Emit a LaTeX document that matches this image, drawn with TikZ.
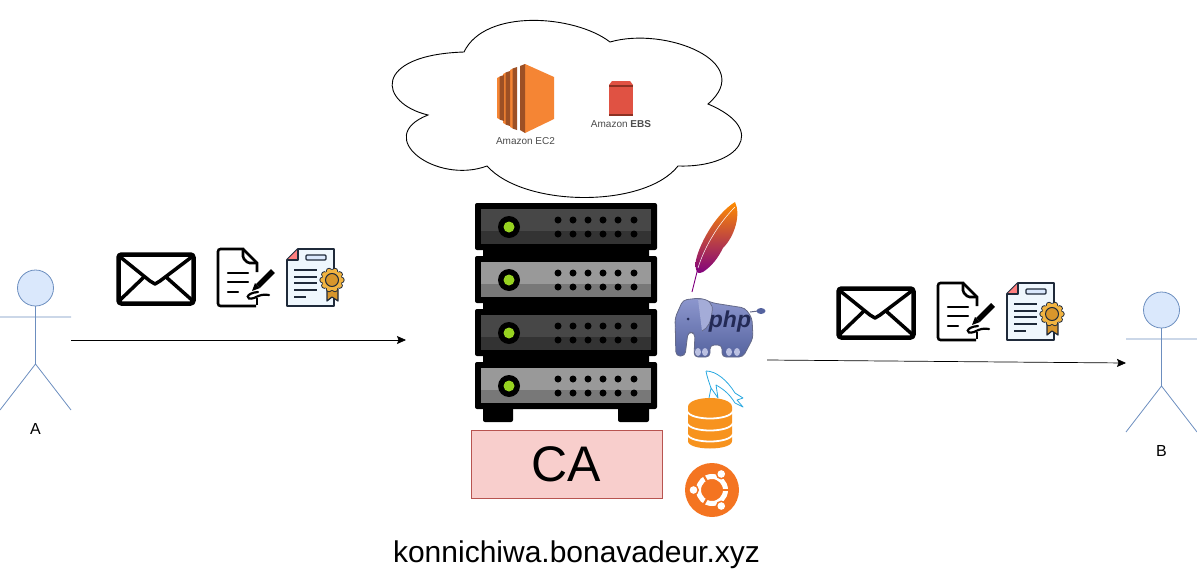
\documentclass[tikz,border=0pt]{standalone}
\usepackage{fontspec}
\setmainfont{Liberation Sans}
\usetikzlibrary{arrows.meta}
\definecolor{actorfill}{HTML}{DAE8FC}
\definecolor{actorline}{HTML}{6C8EBF}
\definecolor{cafill}{HTML}{F8CECC}
\definecolor{caline}{HTML}{B85450}
\definecolor{ectwo}{HTML}{F58534}
\definecolor{ectwodark}{HTML}{9D5025}
\definecolor{ebsred}{HTML}{E05243}
\definecolor{ebsdark}{HTML}{8C3123}
\definecolor{ledgreen}{HTML}{97D320}
\definecolor{phptop}{HTML}{8D97CE}
\definecolor{phpbottom}{HTML}{55639F}
\definecolor{phpdark}{HTML}{232A55}
\definecolor{dbyellow}{HTML}{F7931E}
\definecolor{ubuorange}{HTML}{F47421}
\definecolor{dolphin}{HTML}{29A8E0}
\definecolor{certfill}{HTML}{EFF7FD}
\definecolor{certline}{HTML}{1F2A3A}
\definecolor{medal}{HTML}{F2B441}
\definecolor{medaldark}{HTML}{D8962C}
\tikzset{
  actor/.style={draw=actorline, line width=0.8pt},
  msg/.style={-{Stealth[length=9pt,width=8pt,inset=1.5pt]}, line width=0.7pt},
  icontext/.style={inner sep=0pt, text=black!70, font=\fontsize{10}{10}\selectfont},
  msgset/.pic={
    % envelope
    \draw[line width=4.5pt, rounded corners=3pt] (118.5,254.5) rectangle (193.5,303.5);
    \draw[line width=3.5pt, line join=round] (119,256) -- (150,281) -- (155,284) -- (160,281) -- (193,256);
    \draw[line width=3.5pt] (119,301) -- (144,277) (193,301) -- (166,277);
    % signed page
    \draw[line width=2.6pt, rounded corners=2.5pt] (244,249) -- (218,249) -- (218,306) -- (256,306);
    \draw[line width=2.6pt, rounded corners=1.5pt] (243,249) -- (243,258) -- (248,263) -- (257,263);
    \draw[line width=2.6pt] (243,249) -- (257,263) -- (257,272);
    \draw[line width=2.6pt] (257,298) -- (257,305);
    \foreach \y/\xe in {273/248, 282/248, 292/238}
      \draw[line width=2.4pt, line cap=round] (228,\y) -- (\xe,\y);
    \draw[line width=5.5pt] (258,286) -- (273,271);
    \fill (252,291) -- (255,283) -- (260,288) -- cycle;
    \draw[line width=2.2pt, line cap=round] (258,292) .. controls (245,293) and (245,301) .. (254,298)
      .. controls (260,295) and (263,294) .. (269,295);
    % certificate
    \draw[certline, fill=certfill, line width=1.8pt, line join=round] (298,249) -- (334,249) -- (334,306) -- (287,306) -- (287,260) -- cycle;
    \fill[red!50!white] (287,260) -- (298,249) -- (298,260) -- cycle;
    \draw[certline, line width=1.2pt, line join=round] (287,260) -- (298,260) -- (298,249);
    \draw[certline, fill=actorfill, line width=1.2pt, rounded corners=1pt] (306,255) rectangle (326,260);
    \foreach \y in {270,277,283,290}
      \draw[certline, line width=1.4pt] (294,\y) -- (317,\y);
    \draw[certline, line width=1.4pt] (294,297) -- (306,297);
    \draw[certline, fill=medaldark, line width=1.2pt, line join=round] (327,289) -- (327,301) -- (332,297) -- (338,301) -- (338,289) -- cycle;
    \foreach \a in {0,36,...,324}
      \fill[certline] (332,280) ++(\a:9.5) circle (3.2pt);
    \foreach \a in {0,36,...,324}
      \fill[medal] (332,280) ++(\a:9.5) circle (2.2pt);
    \fill[medal] (332,280) circle (10pt);
    \draw[certline, fill=medaldark, line width=1pt] (332,280) circle (6.5pt);
  }
}
\begin{document}
\begin{tikzpicture}[x=1pt, y=-1pt]
  \useasboundingbox (0,0) rectangle (1197,581);
  % cloud
  \draw[line width=0.9pt, fill=white] (464,52) .. controls (485,8) and (575,15) .. (610,42)
    .. controls (665,26) and (757,62) .. (708,104)
    .. controls (770,130) and (738,168) .. (678,166)
    .. controls (645,208) and (525,208) .. (487,166)
    .. controls (436,185) and (372,137) .. (428,115)
    .. controls (378,103) and (372,55) .. cycle;
  % ec2
  \fill[ectwo] (525,64) -- (554,77) -- (554,119) -- (525,133) -- cycle;
  \fill[ectwodark] (520,66) -- (525,64) -- (525,133) -- (520,130) -- cycle;
  \foreach \x/\yt/\yb in {510/70/127, 503/74/123, 497/78/118} {
    \fill[ectwo] (\x,\yt) -- (\x+3,\yt-1.5) -- (\x+3,\yb+1.5) -- (\x,\yb) -- cycle;
    \fill[ectwodark] (\x+2.5,\yt-1.5) -- (\x+7,\yt-3) -- (\x+7,\yb+3) -- (\x+2.5,\yb+1.5) -- cycle;
  }
  \node[icontext] (ectwolabel) at (525.5,141) {Amazon EC2};
  % ebs
  \fill[ebsred] (609,85) -- (612,81) -- (630,81) -- (633,85) -- cycle;
  \fill[ebsdark] (609,85) rectangle (633,86.5);
  \fill[ebsred] (609,86.5) rectangle (633,114);
  \fill[ebsdark] (609,114) rectangle (633,115.5);
  \node[icontext] (ebslabel) at (621,124) {Amazon \textbf{EBS}};
  % server rack
  \fill[rounded corners=2pt] (483,245) rectangle (649,370);
  \fill[rounded corners=2pt] (483,405) rectangle (513,422);
  \fill[rounded corners=2pt] (618,405) rectangle (649,422);
  \foreach \t/\cola/\colb in {203/black!72/black!80, 256/black!40/black!53, 309/black!72/black!80, 362/black!40/black!53} {
    \fill[rounded corners=2pt] (475,\t) rectangle (657,\t+47);
    \fill[\cola] (481,\t+6) rectangle (651,\t+28);
    \fill[\colb] (481,\t+28) rectangle (651,\t+41);
    \fill (509,\t+24) circle (11pt);
    \fill[ledgreen] (509,\t+24) circle (5.5pt);
    \foreach \x in {558,573,588,603,618,634} {
      \fill (\x,\t+17) circle (3.5pt);
      \fill (\x,\t+31) circle (3.5pt);
    }
  }
  % feather
  \shade[top color=orange!90!yellow, middle color=red!75!black, bottom color=violet]
    (735,202) .. controls (741,214) and (735,236) .. (723,248)
    .. controls (718,258) and (712,266) .. (703,272)
    .. controls (699,274) and (697,272) .. (697,272)
    .. controls (695,268) and (695,262) .. (697,256)
    .. controls (702,240) and (716,214) .. cycle;
  \draw[violet, line width=0.9pt] (692,292) -- (698,268);
  \draw[white, line width=0.5pt] (698,268) .. controls (705,245) and (720,222) .. (735,207);
  % php elephant
  \draw[phpdark!70, top color=phptop, bottom color=phpbottom, line width=0.8pt, rounded corners=4pt]
    (676,356) -- (675,318) -- (683,300) -- (700,298) -- (713,303) -- (745,308) -- (752,318) -- (753,338) -- (743,357)
    -- (722,357) -- (722,345) -- (710,345) -- (710,357) -- (694,357) -- (695,333) -- (688,332) -- (685,356) -- cycle;
  \draw[phpdark!70, line width=1pt] (750,312) -- (758,311);
  \fill[phpbottom] (761,311) ellipse (4.5pt and 3pt);
  \draw[phpdark!70, fill=phptop!80!white, line width=0.7pt] (698,299) .. controls (708,298) and (714,304) .. (712,312)
    .. controls (711,322) and (708,328) .. (702,331);
  \fill[phpdark] (688,319) circle (1.5pt);
  \foreach \x in {698,705,729,737}
    \fill[phptop!60!white] (\x,352) ellipse (3pt and 4pt);
  \node[inner sep=0pt, text=phpdark, font=\fontsize{23}{23}\selectfont\bfseries\itshape] (phplabel) at (730,322) {php};
  % dolphin
  \draw[dolphin, line width=0.8pt, line join=round] (706,371) .. controls (716,371) and (727,380) .. (735,393)
    -- (743,398) -- (737,400) -- (743,407) -- (735,403) .. controls (730,395) and (725,390) .. (716,385)
    -- (718,398) -- (711,388) -- (709,398);
  \draw[dolphin, line width=0.8pt] (706,371) .. controls (707,377) and (709,382) .. (711,388);
  % database
  \fill[dbyellow] (688,407) .. controls (688,395) and (732,395) .. (732,407) -- (732,441)
    .. controls (732,451) and (688,451) .. (688,441) -- cycle;
  \foreach \y in {411,423,434}
    \draw[white, line width=1.8pt] (687,\y) .. controls (690,\y+10) and (730,\y+10) .. (733,\y);
  % ubuntu
  \fill[ubuorange] (712,490) circle (27pt);
  \draw[white, line width=5pt] (712,490) circle (13.5pt);
  \foreach \a in {0,120,240}
    \draw[ubuorange, line width=2.2pt] (712,490) ++(\a:9) -- ++(\a:9);
  \foreach \a in {60,180,300} {
    \fill[ubuorange] (712,490) ++(\a:18.5) circle (5.5pt);
    \fill[white] (712,490) ++(\a:18.5) circle (3.8pt);
  }
  % ca box
  \node[draw=caline, fill=cafill, line width=0.8pt, minimum width=191pt, minimum height=68pt, inner sep=0pt,
    font=\fontsize{50}{50}\selectfont] (ca) at (566.5,464) {CA};
  \node[inner sep=0pt, font=\fontsize{30}{30}\selectfont] (domain) at (576.5,555) {konnichiwa.bonavadeur.xyz};
  % actors
  \foreach \dx/\dy/\nm in {0/0/A, 1126/22/B} {
    \begin{scope}[shift={(\dx,\dy)}]
      \draw[actor, fill=actorfill] (35.5,288) circle (18pt);
      \draw[actor] (35.5,306) -- (35.5,364) (0,317) -- (71,317) (0,410) -- (35.5,364) -- (71,410);
      \node[inner sep=0pt, font=\fontsize{16}{16}\selectfont] (label\nm) at (35.5,429) {\nm};
    \end{scope}
  }
  % messages
  \pic (msgA) {msgset};
  \pic (msgB) at (720,34) {msgset};
  \coordinate (sendA) at (71,340);
  \coordinate (recvCA) at (406,340);
  \coordinate (sendCA) at (767,360);
  \coordinate (recvB) at (1126,363);
  \draw[msg] (sendA) -- (recvCA);
  \draw[msg] (sendCA) -- (recvB);
\end{tikzpicture}
\end{document}
